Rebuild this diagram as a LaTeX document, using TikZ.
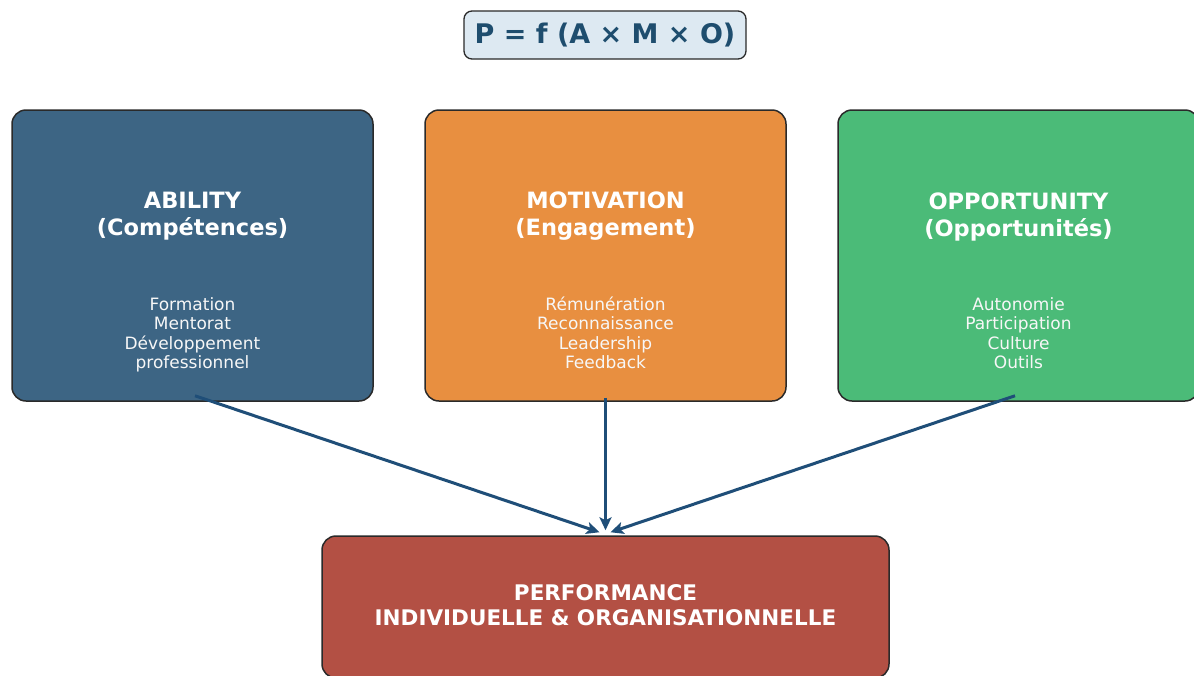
\documentclass[tikz,border=0pt]{standalone}
\usepackage{fontspec}
\setmainfont{DejaVu Sans}
\usetikzlibrary{arrows.meta}
\definecolor{abilityblue}{HTML}{3D6584}
\definecolor{motivorange}{HTML}{E88F40}
\definecolor{opportgreen}{HTML}{4BBB78}
\definecolor{perfred}{HTML}{B35044}
\definecolor{formulafill}{HTML}{DDE9F2}
\definecolor{formulatext}{HTML}{1E4D6E}
\definecolor{arrowblue}{HTML}{1F4E78}
\definecolor{edgegray}{HTML}{2A2A2A}
\tikzset{
  pillar/.style={draw=edgegray, line width=1.5pt, rounded corners=14pt,
    minimum width=361pt, minimum height=291pt, inner sep=0pt},
  headtext/.style={text=white, font=\fontsize{22.5}{27}\selectfont\bfseries,
    align=center, inner sep=0pt},
  itemtext/.style={text=white!94!gray, font=\fontsize{17}{19.5}\selectfont,
    align=center, inner sep=0pt},
  link/.style={draw=arrowblue, line width=3pt,
    -{Stealth[length=13pt,width=12pt,inset=3pt]}},
}
\begin{document}
\begin{tikzpicture}[x=1pt,y=-1pt]
\useasboundingbox (0,0) rectangle (1194,675);
\clip (0,0) rectangle (1194,675);
\fill[white] (0,0) rectangle (1194,675);

% formula banner
\node[draw=edgegray, line width=1.3pt, fill=formulafill, rounded corners=8pt,
  minimum width=282pt, minimum height=48pt, inner sep=0pt,
  text=formulatext, font=\fontsize{27}{31}\selectfont\bfseries]
  (formula) at (605,35) {P = f (A × M × O)};

% the three pillars
\node[pillar, fill=abilityblue] (ability) at (192.5,255.5) {};
\node[pillar, fill=motivorange] (motivation) at (605.5,255.5) {};
\node[pillar, fill=opportgreen] (opportunity) at (1018.5,255.5) {};

\node[headtext] (abilityhead) at ([yshift=39pt]ability.center) {ABILITY\\(Compétences)};
\node[itemtext] (abilityitems) at ([yshift=-79.5pt]ability.center)
  {Formation\\Mentorat\\Développement\\professionnel};

\node[headtext] (motivhead) at ([yshift=39pt]motivation.center) {MOTIVATION\\(Engagement)};
\node[itemtext] (motivitems) at ([yshift=-77.5pt]motivation.center)
  {Rémunération\\Reconnaissance\\Leadership\\Feedback};

\node[headtext] (opporthead) at ([yshift=39pt]opportunity.center) {OPPORTUNITY\\(Opportunités)};
\node[itemtext] (opportitems) at ([yshift=-77.5pt]opportunity.center)
  {Autonomie\\Participation\\Culture\\Outils};

% outcome box
\node[draw=edgegray, line width=1.5pt, fill=perfred, rounded corners=14pt,
  minimum width=567pt, minimum height=142pt, inner sep=0pt] (performance) at (605.5,607) {};
\node[headtext, font=\fontsize{21.5}{25}\selectfont\bfseries] (perftext) at ([yshift=2pt]performance.center)
  {PERFORMANCE\\INDIVIDUELLE \& ORGANISATIONNELLE};

% connectors
\coordinate (aout) at ([xshift=2.5pt,yshift=6pt]ability.south);
\coordinate (mout) at ([yshift=4pt]motivation.south);
\coordinate (oout) at ([xshift=-3.5pt,yshift=6pt]opportunity.south);
\coordinate (ain) at ([xshift=-6pt,yshift=3pt]performance.north);
\coordinate (min) at ([yshift=5pt]performance.north);
\coordinate (oin) at ([xshift=5pt,yshift=3pt]performance.north);
\draw[link] (aout) -- (ain);
\draw[link] (mout) -- (min);
\draw[link] (oout) -- (oin);
\end{tikzpicture}
\end{document}
